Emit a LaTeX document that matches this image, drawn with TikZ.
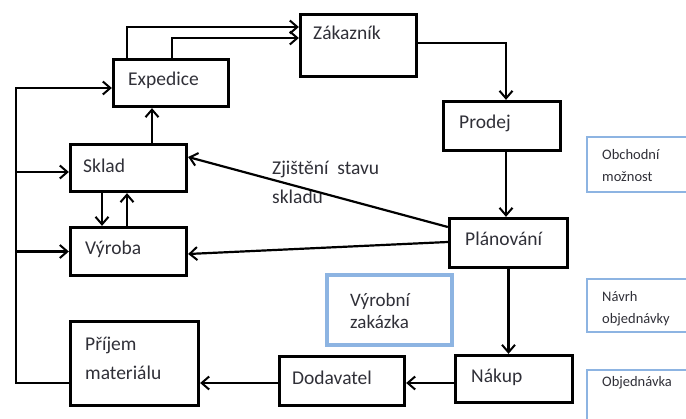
\documentclass[tikz,border=0pt]{standalone}
\usepackage{fontspec}
\setmainfont{Carlito}
\usetikzlibrary{arrows.meta}
\definecolor{txtc}{RGB}{48,48,56}
\definecolor{noteblue}{RGB}{141,180,226}
\begin{document}
\begin{tikzpicture}[x=1pt,y=-1pt,
  box/.style={draw=black, line width=3.3pt, inner sep=0pt},
  note/.style={draw=noteblue, line width=2.5pt, inner sep=0pt},
  arr/.style={-{Straight Barb[length=7.5pt,width=13pt,line width=2pt]}, line width=2.2pt},
  txt/.style={anchor=west, inner sep=0pt, text=txtc, align=left,
    font=\fontsize{19.5}{29}\selectfont},
  small/.style={anchor=west, inner sep=0pt, text=txtc, align=left,
    font=\fontsize{14.5}{22}\selectfont}]
\useasboundingbox (0,0) rectangle (686,419);
\clip (0,0) rectangle (686,419);
\fill[white] (0,0) rectangle (686,419);

% process boxes
\node[box, minimum width=115pt, minimum height=47pt] (exp)  at (171,83) {};
\node[box, minimum width=116pt, minimum height=62pt] (zak)  at (358.5,45.5) {};
\node[box, minimum width=117pt, minimum height=49pt] (prod) at (502,126) {};
\node[box, minimum width=116pt, minimum height=47pt] (skl)  at (128.5,168) {};
\node[box, minimum width=116pt, minimum height=48pt] (vyr)  at (128.5,251.5) {};
\node[box, minimum width=128pt, minimum height=84pt] (prij) at (134.5,363.5) {};
\node[box, minimum width=125pt, minimum height=49pt] (dod)  at (342,381) {};
\node[box, minimum width=117pt, minimum height=47pt] (nak)  at (514,379) {};
\node[box, minimum width=118pt, minimum height=49pt] (plan) at (508.5,243) {};

% document boxes
\node[note, line width=4pt, minimum width=125pt, minimum height=70pt] (vzak) at (389.5,310) {};
\node[note, minimum width=112pt, minimum height=55pt] (obch) at (643,164.5) {};
\node[note, minimum width=112pt, minimum height=53pt] (navr) at (643,305.5) {};
\node[note, minimum width=112pt, minimum height=60pt] (objd) at (643,400) {};

% box texts
\node[txt] (texp)  at (128,80)  {Expedice};
\node[txt] (tzak)  at (313,33)  {Zákazník};
\node[txt] (tprod) at (459,123) {Prodej};
\node[txt] (tskl)  at (83,166)  {Sklad};
\node[txt] (tvyr)  at (85,249)  {Výroba};
\node[txt] (tprij) at (85,358.5) {Příjem\\materiálu};
\node[txt] (tdod)  at (292,378) {Dodavatel};
\node[txt] (tnak)  at (471,377) {Nákup};
\node[txt] (tplan) at (465,239) {Plánování};
\node[txt, font=\fontsize{19}{22}\selectfont] (tvzak) at (350,311) {Výrobní\\zakázka};
\node[small] (tobch) at (602,166) {Obchodní\\možnost};
\node[small] (tnavr) at (602,308.5) {Návrh\\objednávky};
\node[small] (tobjd) at (602,383) {Objednávka};
\node[txt] (tzji) at (272,182.5) {Zjištění\ \ stavu\\skladu};

% connectors
\draw[arr] ([xshift=-44pt]exp.north) |- ([yshift=18.5pt]zak.west);
\draw[arr] ([xshift=1pt]exp.north) |- ([yshift=7.5pt]zak.west);
\draw[arr] ([yshift=2.5pt]zak.east) -| ([xshift=4pt]prod.north);
\draw[arr] ([xshift=4pt]prod.south) -- ([xshift=4pt]prod.south |- plan.north);
\draw[arr] (plan.south) -- (plan.south |- nak.north);
\draw[arr] ([yshift=-4pt]nak.west) -- ([yshift=-4pt]nak.west -| dod.east);
\draw[arr] ([yshift=-2pt]dod.west) -- ([yshift=-2pt]dod.west -| prij.east);
\draw[arr] ([xshift=23.5pt]skl.north) -- ([xshift=23.5pt]skl.north |- exp.south);
\draw[arr] ([xshift=-26.5pt]skl.south) -- ([xshift=-26.5pt]skl.south |- vyr.north);
\draw[arr] ([xshift=-1.5pt]vyr.north) -- ([xshift=-1.5pt]vyr.north |- skl.south);
\draw[arr] ([yshift=16pt]plan.west) -- ([yshift=11pt]skl.east);
\draw[arr] ([yshift=1pt]plan.west) -- ([yshift=-2.5pt]vyr.east);

% return line from goods receipt
\coordinate (busTop) at (16,88);
\coordinate (busBot) at (16,383);
\draw[arr] (prij.west |- busBot) -- (busBot) -- (busTop) -- (exp.west |- busTop);
\draw[arr] (busBot |- 0,172) -- (skl.west |- 0,172);
\draw[arr] (busBot |- vyr.west) -- (vyr.west);
\end{tikzpicture}
\end{document}
